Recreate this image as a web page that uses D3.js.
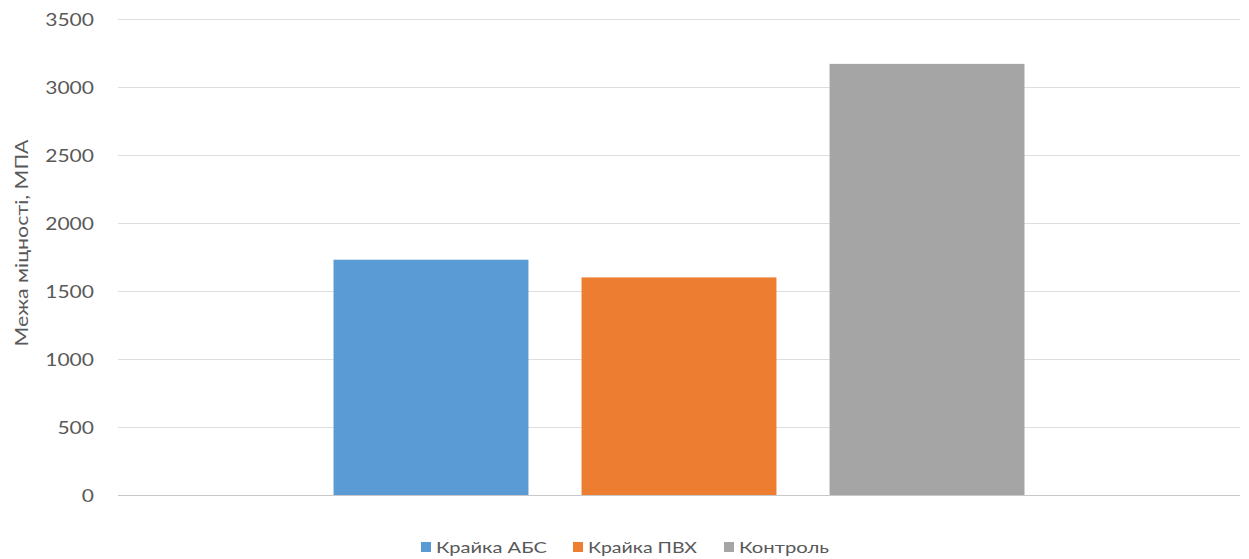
<!DOCTYPE html>
<html>
<head>
<meta charset="utf-8">
<script src="https://cdn.jsdelivr.net/npm/d3@7"></script>
<style>
  html, body { margin: 0; padding: 0; background: #fff; }
  svg text { font-family: Lato, "Open Sans", sans-serif; fill: #595959; }
</style>
</head>
<body>
<svg id="chart" width="1249" height="559"></svg>
<script>
// дані діаграми
const series = ['Крайка АБС', 'Крайка ПВХ', 'Контроль'];
const values = [1730, 1600, 3170];
const colors = ['#5B9BD5', '#ED7D31', '#A5A5A5'];
const yTicks = [0, 500, 1000, 1500, 2000, 2500, 3000, 3500];
const yTitle = 'Межа міцності, МПА';

const svg = d3.select('#chart');
const plot = { left: 118, right: 1240, top: 19, bottom: 495 };

const y = d3.scaleLinear().domain([0, 3500]).range([plot.bottom, plot.top]);
const x = d3.scaleBand()
    .domain(series)
    .range([plot.left, plot.right])
    .paddingInner(0.214)
    .paddingOuter(0.869);

// сітка
svg.append('g')
    .selectAll('line')
    .data(yTicks)
    .join('line')
    .attr('x1', plot.left)
    .attr('x2', plot.right)
    .attr('y1', d => Math.round(y(d)) + 0.5)
    .attr('y2', d => Math.round(y(d)) + 0.5)
    .attr('stroke', d => d === 0 ? '#c8c8c8' : '#dedede')
    .attr('stroke-width', 1);

// вісь Y (текст трохи розтягнутий по горизонталі, як на оригіналі)
const yAxis = svg.append('g')
    .attr('transform', `translate(94,0)`)
    .call(d3.axisLeft(y).tickValues(yTicks).tickFormat(d3.format('d')).tickSize(0).tickPadding(0));
yAxis.select('.domain').remove();
yAxis.selectAll('text')
    .style('font-size', '17px')
    .attr('fill', '#595959')
    .attr('dy', '0.36em')
    .attr('textLength', d => String(d).length * 12.2)
    .attr('lengthAdjust', 'spacingAndGlyphs');

svg.append('text')
    .attr('transform', `translate(28,${243}) rotate(-90)`)
    .attr('text-anchor', 'middle')
    .style('font-size', '18px')
    .attr('textLength', 207)
    .attr('lengthAdjust', 'spacingAndGlyphs')
    .text(yTitle);

// стовпці
svg.append('g')
    .selectAll('rect')
    .data(series)
    .join('rect')
    .attr('x', d => x(d))
    .attr('width', x.bandwidth())
    .attr('y', (d, i) => y(values[i]))
    .attr('height', (d, i) => y(0) - y(values[i]))
    .attr('fill', (d, i) => colors[i]);

// легенда
const legend = svg.append('g').attr('transform', 'translate(0,547)');
const legendX = [421, 573, 724];
const legendW = [111, 109, 90];
const items = legend.selectAll('g')
    .data(series)
    .join('g')
    .attr('transform', (d, i) => `translate(${legendX[i]},0)`);
items.append('rect')
    .attr('x', 0)
    .attr('y', -5)
    .attr('width', 10)
    .attr('height', 10)
    .attr('fill', (d, i) => colors[i]);
items.append('text')
    .attr('x', 15)
    .attr('y', 6)
    .style('font-size', '15px')
    .attr('textLength', (d, i) => legendW[i])
    .attr('lengthAdjust', 'spacingAndGlyphs')
    .text(d => d);
</script>
</body>
</html>
